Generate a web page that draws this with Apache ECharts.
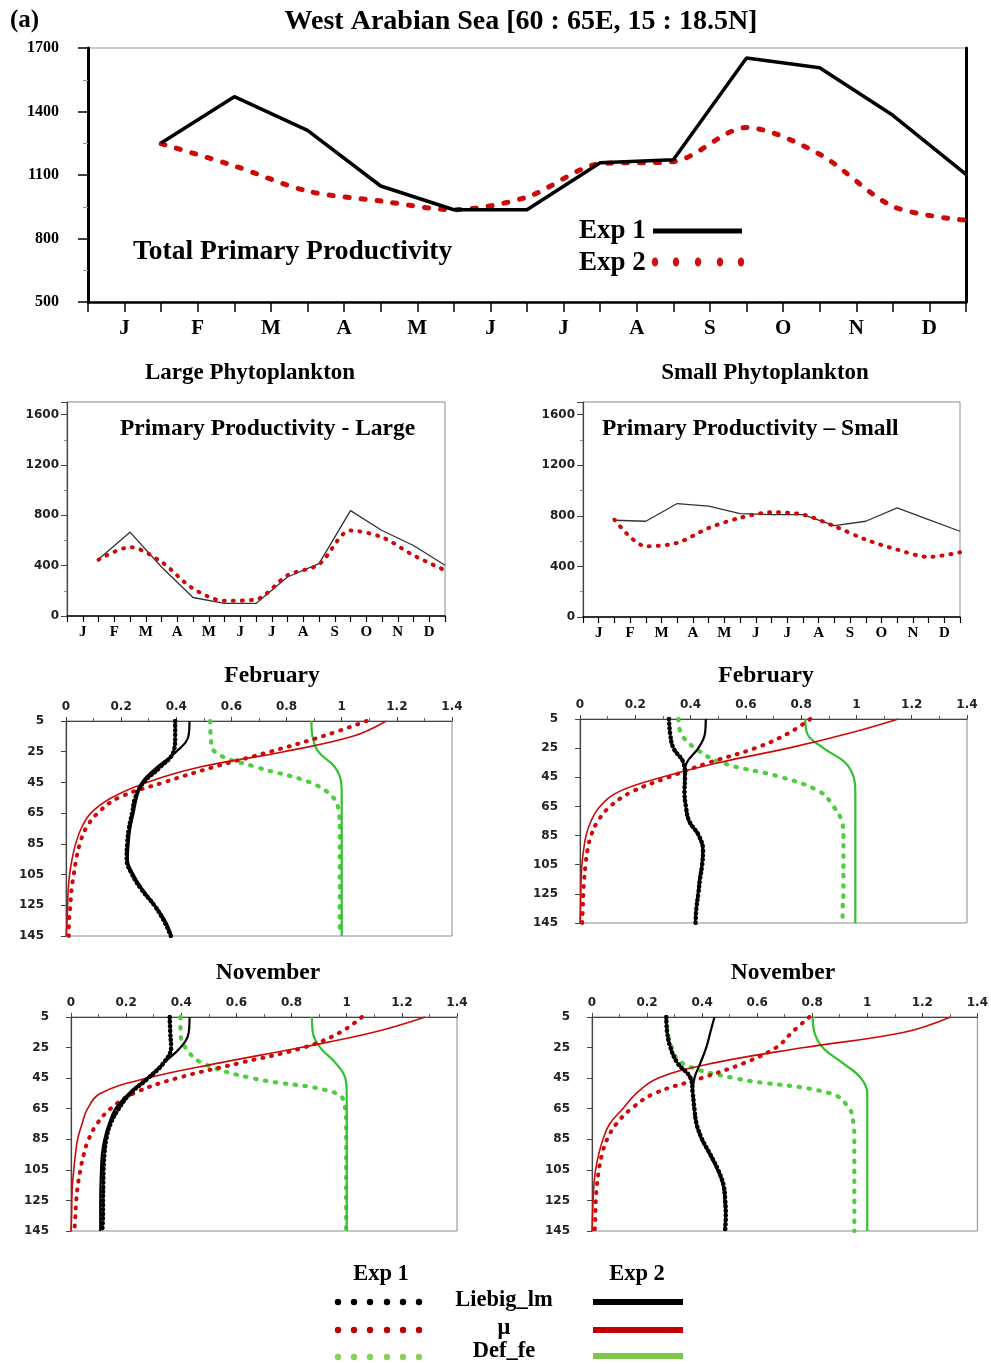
<!DOCTYPE html>
<html><head><meta charset="utf-8">
<script src="https://cdn.jsdelivr.net/npm/echarts@6/dist/echarts.min.js"></script>
<style>html,body{margin:0;padding:0;background:#fff}#c{width:991px;height:1364px}</style>
</head><body><div id="c"></div><script>
// ---------- data ----------
const months = ['J','F','M','A','M','J','J','A','S','O','N','D'];
const monthX = [1,2,3,4,5,6,7,8,9,10,11,12];
const totalExp1 = [1251,1470,1311,1048,936,936,1158,1172,1653,1607,1382,1103];
const totalExp2 = [1248,1143,1024,977,936,996,1153,1163,1324,1198,952,886];
const largeExp1 = [450,666,389,147,100,100,310,416,837,679,560,403];
const largeExp2 = [447,547,429,218,121,132,324,410,679,626,482,363];
const smallExp1 = [765,757,897,876,818,810,810,723,757,863,770,678];
const smallExp2 = [770,559,586,704,784,828,810,718,612,533,475,512];
const totalTicksY = [500,800,1100,1400,1700];
const depths = [5,15,25,35,45,55,65,75,85,95,105,115,125,135,145];
// February, large phytoplankton
const febL_lieb1 = [0.396,0.396,0.39,0.342,0.281,0.251,0.24,0.228,0.222,0.22,0.24,0.275,0.32,0.355,0.38];
const febL_lieb2 = [0.448,0.444,0.40,0.33,0.275,0.257,0.245,0.233,0.227,0.224,0.245,0.28,0.323,0.36,0.384];
const febL_mu1   = [1.09,0.93,0.74,0.535,0.354,0.19,0.115,0.072,0.05,0.037,0.028,0.02,0.016,0.011,0.01];
const febL_mu2   = [1.162,1.04,0.79,0.486,0.293,0.165,0.09,0.055,0.035,0.022,0.013,0.008,0.006,0.004,0.001];
const febL_def1  = [0.523,0.525,0.54,0.69,0.885,0.97,0.99,0.993,0.993,0.993,0.993,0.993,0.993,0.993,0.993];
const febL_def2  = [0.89,0.894,0.915,0.975,0.998,1.0,1.0,1.0,1.0,1.0,1.0,1.0,1.0,1.0,1.0];
// February, small phytoplankton
const febS_lieb1 = [0.322,0.326,0.338,0.374,0.38,0.378,0.383,0.395,0.43,0.445,0.442,0.434,0.428,0.421,0.418];
const febS_lieb2 = [0.455,0.452,0.428,0.386,0.377,0.378,0.383,0.392,0.428,0.443,0.44,0.431,0.426,0.42,0.416];
const febS_mu1   = [0.833,0.752,0.634,0.465,0.32,0.187,0.109,0.065,0.04,0.027,0.02,0.015,0.012,0.01,0.008];
const febS_mu2   = [1.152,0.97,0.754,0.50,0.296,0.139,0.072,0.04,0.022,0.013,0.007,0.004,0.003,0.002,0.0];
const febS_def1  = [0.356,0.366,0.416,0.513,0.73,0.869,0.917,0.947,0.953,0.953,0.953,0.953,0.953,0.95,0.95];
const febS_def2  = [0.815,0.822,0.881,0.96,0.99,0.996,0.996,0.996,0.996,0.996,0.996,0.996,0.996,0.996,0.996];
// November, large phytoplankton
const novL_lieb1 = [0.358,0.36,0.363,0.336,0.28,0.215,0.173,0.143,0.128,0.121,0.118,0.117,0.116,0.116,0.113];
const novL_lieb2 = [0.43,0.427,0.397,0.336,0.276,0.209,0.161,0.137,0.121,0.112,0.109,0.107,0.106,0.106,0.106];
const novL_mu1   = [1.055,0.977,0.844,0.614,0.385,0.227,0.143,0.094,0.064,0.046,0.034,0.025,0.019,0.016,0.012];
const novL_mu2   = [1.285,1.098,0.832,0.54,0.276,0.106,0.06,0.04,0.024,0.016,0.01,0.005,0.003,0.002,0.0];
const novL_def1  = [0.397,0.397,0.415,0.475,0.657,0.965,0.995,0.998,0.998,0.998,0.998,0.998,0.998,0.998,0.998];
const novL_def2  = [0.874,0.877,0.904,0.959,0.995,1.0,1.0,1.0,1.0,1.0,1.0,1.0,1.0,1.0,1.0];
// November, small phytoplankton
const novS_lieb1 = [0.27,0.273,0.285,0.31,0.358,0.366,0.372,0.38,0.4,0.43,0.458,0.478,0.484,0.486,0.484];
const novS_lieb2 = [0.445,0.43,0.415,0.394,0.372,0.366,0.37,0.378,0.397,0.427,0.455,0.475,0.481,0.484,0.481];
const novS_mu1   = [0.79,0.727,0.669,0.554,0.397,0.227,0.143,0.088,0.055,0.036,0.025,0.018,0.014,0.012,0.01];
const novS_mu2   = [1.303,1.134,0.771,0.445,0.239,0.161,0.112,0.064,0.04,0.024,0.013,0.007,0.004,0.002,0.0];
const novS_def1  = [0.27,0.275,0.29,0.325,0.517,0.868,0.935,0.95,0.953,0.953,0.953,0.953,0.953,0.953,0.953];
const novS_def2  = [0.802,0.808,0.838,0.91,0.977,1.0,1.0,1.0,1.0,1.0,1.0,1.0,1.0,1.0,1.0];

// ---------- styles ----------
const SERIF = '"Liberation Serif","DejaVu Serif",serif';
const SANS = '"DejaVu Sans","Liberation Sans",sans-serif';
const RED = '#cc0a0a', GREEN = '#2fc12f', GREEN_DOT = '#4fcf3f';

const grids = [
  {left:88, top:48, width:878, height:254},   // total
  {left:67, top:402, width:378, height:214},  // large
  {left:583, top:402, width:377, height:215}, // small
  {left:66, top:721, width:386, height:215},  // feb L
  {left:580, top:719, width:387, height:204}, // feb S
  {left:71, top:1017, width:386, height:214}, // nov L
  {left:592, top:1017, width:386, height:214} // nov S
].map(g => Object.assign({show:true, borderColor:'#8a8a8a', borderWidth:1, containLabel:false}, g));
grids[0].borderColor = '#999';

function monthFmt(v){ const k = v - 0.5; return (Number.isInteger(k) && k >= 0 && k < 12) ? months[k] : ''; }

function monthAxis(gi, big){
  return {type:'value', gridIndex:gi, min:0, max:12, interval:0.5,
    axisLine:{show:true, onZero:false, lineStyle:{color:'#000', width: big?2.5:1.5}},
    axisTick:{show:true, length: big?10:6, lineStyle:{color:'#000', width: big?1.5:1.2}},
    splitLine:{show:false},
    axisLabel:{formatter:monthFmt, margin: big?16:9, color:'#000', fontFamily:SERIF, fontWeight:'bold', fontSize: big?21:15}};
}
function profX(gi){
  return {type:'value', gridIndex:gi, position:'top', min:0, max:1.4, interval:0.2,
    axisLine:{show:true, onZero:false, lineStyle:{color:'#444', width:1.2}},
    axisTick:{show:true, length:4, lineStyle:{color:'#444'}},
    minorTick:{show:true, splitNumber:2, length:3, lineStyle:{color:'#666'}},
    splitLine:{show:false},
    axisLabel:{formatter:v => String(Math.round(v*10)/10), margin:8, color:'#222', fontFamily:SANS, fontWeight:'bold', fontSize:12}};
}
function profY(gi){
  return {type:'value', gridIndex:gi, inverse:true, min:5, max:145, interval:20,
    axisLine:{show:true, onZero:false, lineStyle:{color:'#444', width:1.2}},
    axisTick:{show:true, length:5, lineStyle:{color:'#444'}},
    splitLine:{show:false},
    axisLabel:{margin:22, color:'#222', fontFamily:SANS, fontWeight:'bold', fontSize:12}};
}
function prodY(gi){
  return {type:'value', gridIndex:gi, min:0, max:1700, interval:400,
    axisLine:{show:true, onZero:false, lineStyle:{color:'#444', width:1.2}},
    axisTick:{show:true, length:6, lineStyle:{color:'#444'}},
    minorTick:{show:true, splitNumber:2, length:3, lineStyle:{color:'#888'}},
    splitLine:{show:false},
    axisLabel:{formatter:v => v > 1600 ? '' : String(v), margin:8, color:'#222', fontFamily:SANS, fontWeight:'bold', fontSize:12}};
}

const xAxis = [monthAxis(0,true), monthAxis(1,false), monthAxis(2,false), profX(3), profX(4), profX(5), profX(6)];
const yAxis = [
  {type:'value', gridIndex:0, min:totalTicksY[0], max:totalTicksY[totalTicksY.length-1], interval:300,
    axisLine:{show:true, onZero:false, lineStyle:{color:'#000', width:3}},
    axisTick:{show:true, length:10, lineStyle:{color:'#000', width:1.5}},
    minorTick:{show:true, splitNumber:2, length:5, lineStyle:{color:'#999'}},
    splitLine:{show:false},
    axisLabel:{formatter:v => String(v), margin:29, color:'#000', fontFamily:SERIF, fontWeight:'bold', fontSize:16}},
  {type:'value', gridIndex:0, position:'right', min:500, max:1700,
    axisLine:{show:true, onZero:false, lineStyle:{color:'#000', width:3}},
    axisTick:{show:false}, axisLabel:{show:false}, splitLine:{show:false}},
  prodY(1), prodY(2), profY(3), profY(4), profY(5), profY(6)
];

function monthSeries(xi, yi, vals, style){
  return Object.assign({type:'line', xAxisIndex:xi, yAxisIndex:yi, symbol:'none',
    data: monthX.map((m,i) => [m, vals[i]])}, style);
}
function profSeries(xi, vals, kind){
  const st = {
    lieb2:{lineStyle:{color:'#000', width:2.2}},
    lieb1:{lineStyle:{color:'#000', width:4.5, type:[0.5,4], cap:'round'}},
    mu2:{lineStyle:{color:RED, width:1.6}},
    mu1:{lineStyle:{color:RED, width:4, type:[1,8], cap:'round'}},
    def2:{lineStyle:{color:GREEN, width:2.2}},
    def1:{lineStyle:{color:GREEN_DOT, width:4.2, type:[1.5,8.5], cap:'round'}}
  }[kind];
  return Object.assign({type:'line', xAxisIndex:xi, yAxisIndex:xi+1, symbol:'none', smooth:0.4,
    data: depths.map((d,i) => [vals[i], d])}, st);
}

const series = [
  monthSeries(0,0,totalExp2,{smooth:0.3, lineStyle:{color:RED, width:5, type:[4,12], cap:'round'}}),
  monthSeries(0,0,totalExp1,{lineStyle:{color:'#000', width:3.5}}),
  monthSeries(1,2,largeExp1,{lineStyle:{color:'#333', width:1.3}}),
  monthSeries(1,2,largeExp2,{smooth:0.3, lineStyle:{color:RED, width:4, type:[1,8], cap:'round'}}),
  monthSeries(2,3,smallExp1,{lineStyle:{color:'#333', width:1.3}}),
  monthSeries(2,3,smallExp2,{smooth:0.3, lineStyle:{color:RED, width:4, type:[1,8], cap:'round'}})
];
const profs = [
  [3, febL_lieb1, febL_lieb2, febL_mu1, febL_mu2, febL_def1, febL_def2],
  [4, febS_lieb1, febS_lieb2, febS_mu1, febS_mu2, febS_def1, febS_def2],
  [5, novL_lieb1, novL_lieb2, novL_mu1, novL_mu2, novL_def1, novL_def2],
  [6, novS_lieb1, novS_lieb2, novS_mu1, novS_mu2, novS_def1, novS_def2]
];
profs.forEach(p => {
  const xi = p[0];
  series.push(profSeries(xi, p[5], 'def1'), profSeries(xi, p[6], 'def2'),
              profSeries(xi, p[3], 'mu1'), profSeries(xi, p[4], 'mu2'),
              profSeries(xi, p[1], 'lieb1'), profSeries(xi, p[2], 'lieb2'));
});

function txt(text, x, y, size, align){
  return {type:'text', x:x, y:y, style:{text:text, fill:'#000', font:'bold '+size+'px '+SERIF,
    align: align || 'center', verticalAlign:'middle'}, z:100};
}
const graphic = [
  txt('(a)', 10, 21, 25, 'left'),
  txt('West Arabian Sea [60 : 65E, 15 : 18.5N]', 521, 22, 28),
  txt('Total Primary Productivity', 133, 252, 27.5, 'left'),
  txt('Exp 1', 579, 231, 27, 'left'),
  txt('Exp 2', 579, 263, 27, 'left'),
  {type:'line', shape:{x1:653, y1:231, x2:742, y2:231}, style:{stroke:'#000', lineWidth:5}, z:100},
  txt('Large Phytoplankton', 250, 373, 23),
  txt('Small Phytoplankton', 765, 373, 23),
  txt('Primary Productivity - Large', 120, 429, 23.5, 'left'),
  txt('Primary Productivity \u2013 Small', 602, 429, 23.5, 'left'),
  txt('February', 272, 676, 23.5),
  txt('February', 766, 676, 23.5),
  txt('November', 268, 973, 23.5),
  txt('November', 783, 973, 23.5),
  txt('Exp 1', 381, 1274, 22.5),
  txt('Exp 2', 637, 1274, 22.5),
  txt('Liebig_lm', 504, 1300, 22.5),
  txt('\u03bc', 504, 1328, 22.5),
  txt('Def_fe', 504, 1351, 22.5),
  {type:'line', shape:{x1:593, y1:1302, x2:683, y2:1302}, style:{stroke:'#000', lineWidth:6}, z:100},
  {type:'line', shape:{x1:593, y1:1330, x2:683, y2:1330}, style:{stroke:'#c40000', lineWidth:6}, z:100},
  {type:'line', shape:{x1:593, y1:1356, x2:683, y2:1356}, style:{stroke:'#7cc64a', lineWidth:6}, z:100}
];
[655,676,698,720,741].forEach(cx => graphic.push({type:'ellipse', shape:{cx:cx, cy:262, rx:3.2, ry:4.5}, style:{fill:'#d01010'}, z:100}));
[338,354,370,387,403,419].forEach(cx => {
  graphic.push({type:'circle', shape:{cx:cx, cy:1302, r:3.2}, style:{fill:'#000'}, z:100});
  graphic.push({type:'circle', shape:{cx:cx, cy:1330, r:3.2}, style:{fill:'#c40000'}, z:100});
  graphic.push({type:'circle', shape:{cx:cx, cy:1357, r:3.2}, style:{fill:'#8ccf5a'}, z:100});
});

const chart = echarts.init(document.getElementById('c'), null, {renderer:'canvas'});
chart.setOption({animation:false, backgroundColor:'#fff', grid:grids, xAxis:xAxis, yAxis:yAxis, series:series, graphic:graphic});
</script></body></html>
